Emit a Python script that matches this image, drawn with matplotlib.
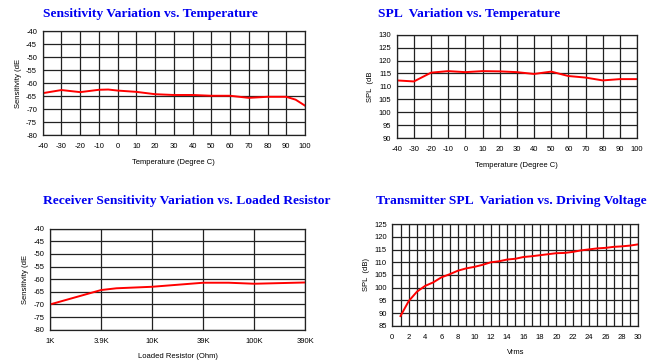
import matplotlib
matplotlib.use("Agg")
import matplotlib.pyplot as plt
import numpy as np

# ---- data ----
temp_ticks = [-40, -30, -20, -10, 0, 10, 20, 30, 40, 50, 60, 70, 80, 90, 100]

sens_temp_x = [-40, -30, -20, -10, -5, 0, 10, 20, 30, 40, 50, 60, 70, 80, 90, 95, 100]
sens_temp_y = [-63.9, -62.7, -63.5, -62.6, -62.5, -62.9, -63.4, -64.3, -64.6, -64.6,
               -64.9, -64.9, -65.7, -65.3, -65.3, -66.4, -68.7]

spl_temp_x = [-40, -30, -20, -10, 0, 10, 20, 30, 40, 50, 60, 70, 80, 90, 100]
spl_temp_y = [112.3, 111.9, 115.3, 115.9, 115.5, 115.9, 115.8, 115.5, 114.8, 115.7,
              114.0, 113.4, 112.3, 112.8, 112.8]

resistor_labels = ["1K", "3.9K", "10K", "39K", "100K", "390K"]
res_pos = [0, 1, 1.3, 2, 3, 3.5, 4, 5]
res_sens = [-70.0, -64.3, -63.6, -63.0, -61.4, -61.4, -61.8, -61.3]

vrms = list(range(1, 31))
spl_vrms = [88.8, 94.7, 98.4, 100.7, 102.1, 104.1, 105.3, 106.7, 107.6, 108.2,
            109.0, 110.0, 110.4, 111.1, 111.4, 112.1, 112.4, 112.8, 113.2, 113.6,
            113.7, 114.1, 114.7, 115.1, 115.5, 115.7, 116.1, 116.3, 116.6, 117.1]

titles = ["Sensitivity Variation vs. Temperature",
          "SPL  Variation vs. Temperature",
          "Receiver Sensitivity Variation vs. Loaded Resistor",
          "Transmitter SPL  Variation vs. Driving Voltage"]

# ---- style ----
plt.rcParams['font.family'] = ['Liberation Sans', 'DejaVu Sans']
plt.rcParams['axes.unicode_minus'] = False
TFS = 5.5
GRID = dict(color='#222222', linewidth=0.9)
RED = dict(color='#ff0000', linewidth=1.4)

fig = plt.figure(figsize=(6.58, 3.61), dpi=100)
fig.patch.set_facecolor('white')

def style(ax):
    ax.tick_params(which='both', length=0, labelsize=TFS)
    ax.tick_params(axis='x', pad=6)
    ax.tick_params(axis='y', pad=4)
    for s in ax.spines.values():
        s.set_color('#222222')
        s.set_linewidth(0.9)
    ax.set_axisbelow(True)

def title(x, y, txt):
    fig.text(x, y, txt, fontsize=9.7, fontweight='bold', family='Liberation Serif',
             color='#0000f0', ha='left', va='center')

# chart 1
ax1 = fig.add_axes([0.0649, 0.626, 0.3986, 0.288])
ax1.plot(sens_temp_x, sens_temp_y, **RED)
ax1.set_xlim(-40, 100); ax1.set_ylim(-80, -40)
ax1.set_xticks(temp_ticks); ax1.set_yticks(np.arange(-80, -39, 5))
ax1.grid(True, **GRID)
ax1.set_xlabel("Temperature (Degree C)", fontsize=TFS, labelpad=6)
ax1.set_ylabel("Sensitivity (dE", fontsize=TFS, labelpad=3)
style(ax1)
title(43/658, 1 - 14/361, titles[0])

# chart 2
ax2 = fig.add_axes([0.6029, 0.6177, 0.3652, 0.2862])
ax2.plot(spl_temp_x, spl_temp_y, **RED)
ax2.set_xlim(-40, 100); ax2.set_ylim(90, 130)
ax2.set_xticks(temp_ticks); ax2.set_yticks(np.arange(90, 131, 5))
ax2.grid(True, **GRID)
ax2.set_xlabel("Temperature (Degree C)", fontsize=TFS, labelpad=6)
ax2.set_ylabel("SPL  (dB", fontsize=TFS, labelpad=3)
style(ax2)
title(378/658, 1 - 14/361, titles[1])

# chart 3
ax3 = fig.add_axes([0.076, 0.0867, 0.388, 0.2798])
ax3.plot(res_pos, res_sens, **RED)
ax3.set_xlim(0, 5); ax3.set_ylim(-80, -40)
ax3.set_xticks(range(len(resistor_labels)))
ax3.set_xticklabels(resistor_labels)
ax3.set_yticks(np.arange(-80, -39, 5))
ax3.grid(True, **GRID)
ax3.set_xlabel("Loaded Resistor (Ohm)", fontsize=TFS, labelpad=6)
ax3.set_ylabel("Sensitivity (dE", fontsize=TFS, labelpad=3)
style(ax3)
title(43/658, 1 - 200.7/361, titles[2])

# chart 4
ax4 = fig.add_axes([0.5962, 0.0978, 0.3739, 0.2809])
ax4.plot(vrms, spl_vrms, **RED)
ax4.set_xlim(0, 30); ax4.set_ylim(85, 125)
ax4.set_xticks(range(0, 31, 2))
ax4.set_xticks(range(0, 31, 1), minor=True)
ax4.set_yticks(np.arange(85, 126, 5))
ax4.grid(True, which='both', **GRID)
ax4.set_xlabel("Vrms", fontsize=TFS, labelpad=6)
ax4.set_ylabel("SPL  (dB)", fontsize=TFS, labelpad=3)
style(ax4)
title(376/658, 1 - 200.7/361, titles[3])

fig.savefig("out.png", dpi=100, facecolor='white')
